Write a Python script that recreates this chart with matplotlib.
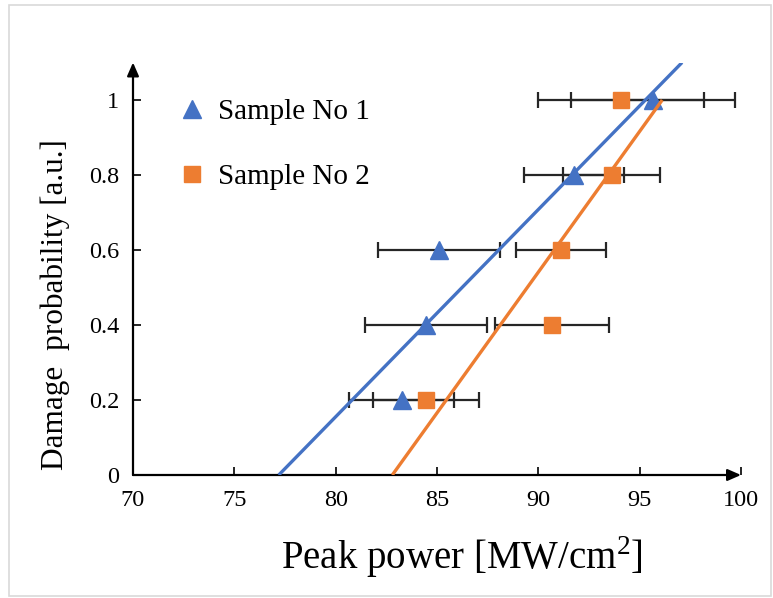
import matplotlib
matplotlib.use("Agg")
import matplotlib.pyplot as plt
import numpy as np
from matplotlib.lines import Line2D
from matplotlib.patches import Rectangle

plt.rcParams['font.family'] = ['Liberation Serif', 'DejaVu Serif']
plt.rcParams['mathtext.fontset'] = 'custom'
plt.rcParams['mathtext.rm'] = 'Liberation Serif'

# Data
prob = [1.0, 0.8, 0.6, 0.4, 0.2]
s1_power = [95.65, 91.76, 85.10, 84.45, 83.27]
s1_err = [4.05, 2.49, 3.0, 3.0, 2.59]
s2_power = [94.07, 93.63, 91.11, 90.67, 84.45]
s2_err = [4.1, 2.39, 2.22, 2.81, 2.61]
labels = ["Sample No 1", "Sample No 2"]
x_ticks = [70, 75, 80, 85, 90, 95, 100]
y_ticks = [0, 0.2, 0.4, 0.6, 0.8, 1.0]
y_tick_labels = ["0", "0.2", "0.4", "0.6", "0.8", "1"]
fit1_yrange = [0.0, 1.1]
fit2_yrange = [0.0, 1.0]

blue = '#4472C4'
orange = '#ED7D31'
ebc = '#262626'

fig = plt.figure(figsize=(7.73, 5.98), dpi=100)
fig.patches.append(Rectangle((9/773, 2/598), 762/773, 591/598, transform=fig.transFigure,
                             fill=False, edgecolor='#d9d9d9', lw=1.2))
ax = fig.add_axes([133/773, 1-475/598, (741-133)/773, (475-62.5)/598])

for p, e in [(s1_power, s1_err), (s2_power, s2_err)]:
    ax.errorbar(p, prob, xerr=e, fmt='none', ecolor=ebc, elinewidth=1.6, capsize=5.5,
                capthick=1.6, zorder=2)
for p, c, m, ms in [(s1_power, blue, '^', 12.5), (s2_power, orange, 's', 11.5)]:
    ax.plot(p, prob, linestyle='none', marker=m, color=c, markersize=ms, zorder=3)

# linear trendlines
for p, c, yr in [(s1_power, blue, fit1_yrange), (s2_power, orange, fit2_yrange)]:
    m_, b_ = np.polyfit(p, prob, 1)
    yy = np.array(yr)
    xx = (yy - b_) / m_
    ax.plot(xx, yy, color=c, lw=2.4, zorder=4, solid_capstyle='butt')

ax.set_xlim(70, 100)
ax.set_ylim(0, 1.1)
for s in ax.spines.values():
    s.set_visible(False)
ax.annotate('', xy=(1.0, 0), xytext=(0, 0), xycoords='axes fraction',
            arrowprops=dict(arrowstyle='-|>,head_length=0.8,head_width=0.35', color='black', lw=1.6,
                            shrinkA=0, shrinkB=0))
ax.annotate('', xy=(0, 1.0), xytext=(0, 0), xycoords='axes fraction',
            arrowprops=dict(arrowstyle='-|>,head_length=0.8,head_width=0.35', color='black', lw=1.6,
                            shrinkA=0, shrinkB=0))

ax.set_xticks(x_ticks)
ax.set_xticklabels([str(t) for t in x_ticks])
ax.set_yticks(y_ticks)
ax.set_yticklabels(y_tick_labels)
ax.tick_params(axis='both', direction='in', length=6, width=1.2, labelsize=17.5, colors='black')
ax.tick_params(axis='x', pad=11)
ax.tick_params(axis='y', pad=10)

ax.set_xlabel('Peak power [MW/cm$^{2}$]', fontsize=28)
ax.xaxis.set_label_coords((462-133)/608, -0.143)
ax.set_ylabel('Damage  probability [a.u.]', fontsize=22.5)
ax.yaxis.set_label_coords(-0.104, (475-305)/412.5)

handles = [Line2D([], [], linestyle='none', marker='^', color=blue, markersize=12.5),
           Line2D([], [], linestyle='none', marker='s', color=orange, markersize=11.5)]
ax.legend(handles, labels, loc='upper left', bbox_to_anchor=(0.03, 0.975), frameon=False,
          fontsize=21, handlelength=1.0, handletextpad=0.4, labelspacing=1.3)

fig.savefig('out.png', dpi=100)
